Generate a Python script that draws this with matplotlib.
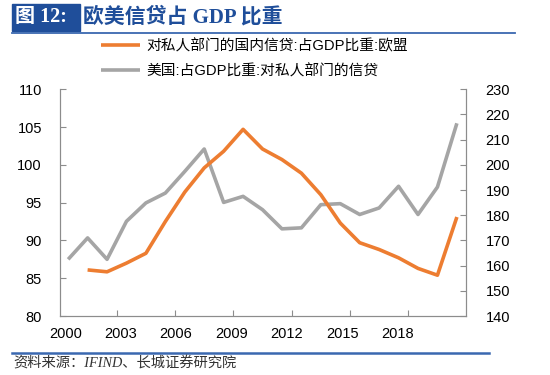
import numpy as np
import matplotlib.pyplot as plt
from matplotlib.lines import Line2D
from matplotlib.patches import Rectangle

plt.rcParams['font.family'] = ['Liberation Sans', 'Noto Sans CJK SC']

# 数据 (2000-2020)
years = list(range(2000, 2021))
eu_credit = [np.nan, 86.1, 85.85, 87.0, 88.3, 92.5, 96.4, 99.6, 101.8, 104.7, 102.1,
             100.7, 98.9, 96.05, 92.3, 89.7, 88.8, 87.7, 86.3, 85.4, 93.1]
us_credit = [162.5, 171.0, 162.5, 177.6, 184.9, 188.8, 197.4, 206.3, 185.1, 187.5, 182.2,
             174.6, 175.0, 184.2, 184.6, 180.3, 182.9, 191.5, 180.3, 191.2, 216.5]
year_labels = ['2000', '2003', '2006', '2009', '2012', '2015', '2018']

eu_name = '对私人部门的国内信贷:占GDP比重:欧盟'
us_name = '美国:占GDP比重:对私人部门的信贷'

orange = '#ED7D31'
gray = '#A5A5A5'
spine_c = '#8C8C8C'
blue = '#1F4E9A'

fig = plt.figure(figsize=(5.5, 3.75), dpi=100)
ax = fig.add_axes([0.1091, 0.1573, 0.7382, 0.6046])
ax2 = ax.twinx()

x = np.arange(len(years))
l1, = ax.plot(x, eu_credit, color=orange, lw=2.6, solid_capstyle='butt', zorder=3)
l2, = ax2.plot(x, us_credit, color=gray, lw=2.6, solid_capstyle='butt', zorder=2)
ax.set_zorder(ax2.get_zorder() + 1)
ax.patch.set_visible(False)

ax.set_xlim(-0.42, 20.47)
ax.set_ylim(80, 110)
ax2.set_ylim(140, 230)
ax.set_yticks(np.arange(80, 111, 5))
ax2.set_yticks(np.arange(140, 231, 10))

# x 轴: 刻度线在类别之间, 标签单独放
label_pos = np.arange(len(year_labels)) * 2.85 - 0.15
ax.set_xticks(label_pos)
ax.set_xticklabels(year_labels)
ax.set_xticks(np.arange(1, 7) * 3 - 0.5, minor=True)
ax.tick_params(axis='x', which='major', length=0, pad=8, labelsize=10.5)
ax.tick_params(axis='x', which='minor', direction='in', length=4, color=spine_c, width=0.8)
ax.tick_params(axis='y', direction='in', length=4, color=spine_c, width=0.8, labelsize=10.5, pad=13)
ax2.tick_params(axis='y', direction='in', length=4, color=spine_c, width=0.8, labelsize=10.5, pad=14)

for a in (ax, ax2):
    a.spines['top'].set_visible(False)
    for s in ('left', 'right', 'bottom'):
        a.spines[s].set_color(spine_c)
        a.spines[s].set_linewidth(0.8)

fig.legend([l1, l2], [eu_name, us_name], loc='upper left',
           bbox_to_anchor=(101 / 550, 1 - 39 / 375), frameon=False, fontsize=10.6,
           handlelength=2.65, handletextpad=0.4, borderpad=0, borderaxespad=0,
           labelspacing=0.7)

# 标题
fig.add_artist(Rectangle((12 / 550, 1 - 31 / 375), 68 / 550, 27 / 375,
                         transform=fig.transFigure, color=blue, zorder=1))
fig.text(15 / 550, 1 - 17.5 / 375, '图 12:', color='white', fontsize=14.5, weight='bold',
         family=['Liberation Serif', 'Noto Sans CJK SC'], va='center', ha='left')
fig.text(83 / 550, 1 - 17.5 / 375, '欧美信贷占 GDP 比重', color=blue, fontsize=15, weight='bold',
         family=['Liberation Serif', 'Noto Sans CJK SC'], va='center', ha='left')
fig.add_artist(Line2D([12 / 550, 515 / 550], [1 - 32.5 / 375, 1 - 32.5 / 375],
                      transform=fig.transFigure, color='#3A68B0', lw=1.3))

# 底部来源
fig.add_artist(Line2D([12 / 550, 489 / 550], [1 - 352.5 / 375, 1 - 352.5 / 375],
                      transform=fig.transFigure, color='#3A68B0', lw=1.8))
fig.text(13 / 550, 1 - 364 / 375, '资料来源：IFIND、长城证券研究院', fontsize=10.3,
         style='italic', color='#333333', va='center', ha='left',
         family=['Liberation Serif', 'Noto Sans CJK SC'])

fig.savefig('out.png', dpi=100)
